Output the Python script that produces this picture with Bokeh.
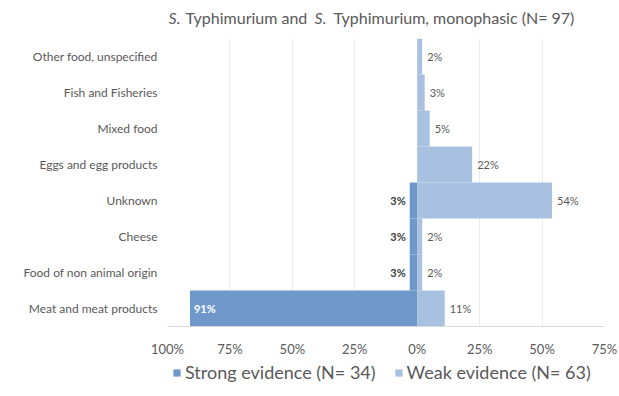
from bokeh.plotting import figure
from bokeh.layouts import column
from bokeh.models import (ColumnDataSource, FixedTicker, Legend, LegendItem, FactorRange, Range1d)
from bokeh.embed import file_html
from bokeh.resources import INLINE
from bokeh.core.properties import value

# ---- data ----
categories = ["Meat and meat products", "Food of non animal origin", "Cheese", "Unknown",
              "Eggs and egg products", "Mixed food", "Fish and Fisheries", "Other food, unspecified"]
strong = [91, 3, 3, 3, 0, 0, 0, 0]
weak = [11, 2, 2, 54, 22, 5, 3, 2]
tick_values = [-100, -75, -50, -25, 0, 25, 50, 75]
tick_labels = ["100%", "75%", "50%", "25%", "0%", "25%", "50%", "75%"]
title_parts = ["S.", "Typhimurium and", "S.", "Typhimurium, monophasic (N= 97)"]
legend_labels = ["Strong evidence (N= 34)", "Weak evidence (N= 63)"]

STRONG_C = "#6f98ca"
WEAK_C = "#a9c1e1"
TXT = "#595959"
FONT = "Lato"
W = 619
BL, BR = 167, 15  # left / right borders (frames of all strips are aligned)


def blank(h):
    f = figure(width=W, height=h, x_range=Range1d(BL, W - BR), y_range=Range1d(0, h),
               x_axis_type=None, y_axis_type=None, output_backend="svg", toolbar_location=None,
               min_border=0)
    f.outline_line_color = None
    f.xgrid.grid_line_color = None
    f.ygrid.grid_line_color = None
    return f


# ---- title strip ----
TH = 38
pt = blank(TH)
tsrc = ColumnDataSource(dict(x=[168, 185, 314, 333], y=[TH - 17] * 4, t=title_parts,
                             st=["italic", "normal", "italic", "normal"]))
pt.text(x="x", y="y", text="t", source=tsrc, text_font=value(FONT), text_font_size="16px",
        text_font_style="st", text_color=TXT, text_baseline="middle", text_align="left")

# ---- main chart ----
p = figure(width=W, height=321, y_range=FactorRange(*categories), x_range=Range1d(-100, 75),
           output_backend="svg", toolbar_location=None,
           min_border_left=BL, min_border_right=BR, min_border_top=0, min_border_bottom=32)
p.outline_line_color = None

s_idx = [i for i, v in enumerate(strong) if v > 0]
src_s = ColumnDataSource(dict(cat=[categories[i] for i in s_idx], left=[-strong[i] for i in s_idx],
                              right=[0] * len(s_idx)))
src_w = ColumnDataSource(dict(cat=categories, left=[0] * len(weak), right=weak))
p.hbar(y="cat", left="left", right="right", height=1.0, source=src_s, fill_color=STRONG_C, line_color=None)
p.hbar(y="cat", left="left", right="right", height=1.0, source=src_w, fill_color=WEAK_C, line_color=None)

wl = ColumnDataSource(dict(x=weak, y=categories, t=[f"{v}%" for v in weak]))
p.text(x="x", y="y", text="t", source=wl, x_offset=5, text_align="left", text_baseline="middle",
       text_font=value(FONT), text_font_size="11px", text_color=TXT)

out_idx = [i for i in s_idx if strong[i] < 50]
in_idx = [i for i in s_idx if strong[i] >= 50]
so = ColumnDataSource(dict(x=[-strong[i] for i in out_idx], y=[categories[i] for i in out_idx],
                           t=[f"{strong[i]}%" for i in out_idx]))
p.text(x="x", y="y", text="t", source=so, x_offset=-4, text_align="right", text_baseline="middle",
       text_font=value(FONT), text_font_size="11px", text_font_style="bold", text_color="#404040")
si = ColumnDataSource(dict(x=[-strong[i] for i in in_idx], y=[categories[i] for i in in_idx],
                           t=[f"{strong[i]}%" for i in in_idx]))
p.text(x="x", y="y", text="t", source=si, x_offset=4, text_align="left", text_baseline="middle",
       text_font=value(FONT), text_font_size="11px", text_font_style="bold", text_color="white")

p.xaxis.ticker = FixedTicker(ticks=tick_values)
p.xaxis.major_label_overrides = {v: l for v, l in zip(tick_values, tick_labels)}
p.xaxis.major_tick_line_color = None
p.xaxis.major_tick_out = 0
p.xaxis.minor_tick_line_color = None
p.xaxis.minor_tick_out = 0
p.xaxis.axis_line_color = "#d9d9d9"
p.xaxis.major_label_text_font = FONT
p.xaxis.major_label_text_font_size = "13px"
p.xaxis.major_label_text_color = TXT
p.xaxis.major_label_standoff = 14

p.yaxis.major_tick_line_color = None
p.yaxis.major_tick_out = 0
p.yaxis.minor_tick_line_color = None
p.yaxis.axis_line_color = None
p.yaxis.major_label_text_font = FONT
p.yaxis.major_label_text_font_size = "12px"
p.yaxis.major_label_text_color = TXT
p.yaxis.major_label_standoff = 10

p.xgrid.grid_line_color = "#ebebeb"
p.ygrid.grid_line_color = None

# ---- legend strip ----
LH = 36
pl = blank(LH)
off = dict(y=[-50], left=[BL], right=[BL + 1])  # outside the visible range; only for legend swatches
ls = pl.hbar(y="y", left="left", right="right", height=1, source=ColumnDataSource(off),
             fill_color=STRONG_C, line_color=None)
lw = pl.hbar(y="y", left="left", right="right", height=1, source=ColumnDataSource(dict(off)),
             fill_color=WEAK_C, line_color=None)
legend = Legend(items=[LegendItem(label=legend_labels[0], renderers=[ls]),
                       LegendItem(label=legend_labels[1], renderers=[lw])],
                orientation="horizontal", location=(5, 12), glyph_width=9, glyph_height=9,
                label_text_font=FONT, label_text_font_size="18px", label_text_color=TXT,
                spacing=18, label_standoff=4, border_line_color=None, padding=3, margin=0,
                background_fill_alpha=0)
pl.add_layout(legend, "center")

layout = column(pt, p, pl, spacing=0)
open("out.html", "w").write(file_html(layout, INLINE))
